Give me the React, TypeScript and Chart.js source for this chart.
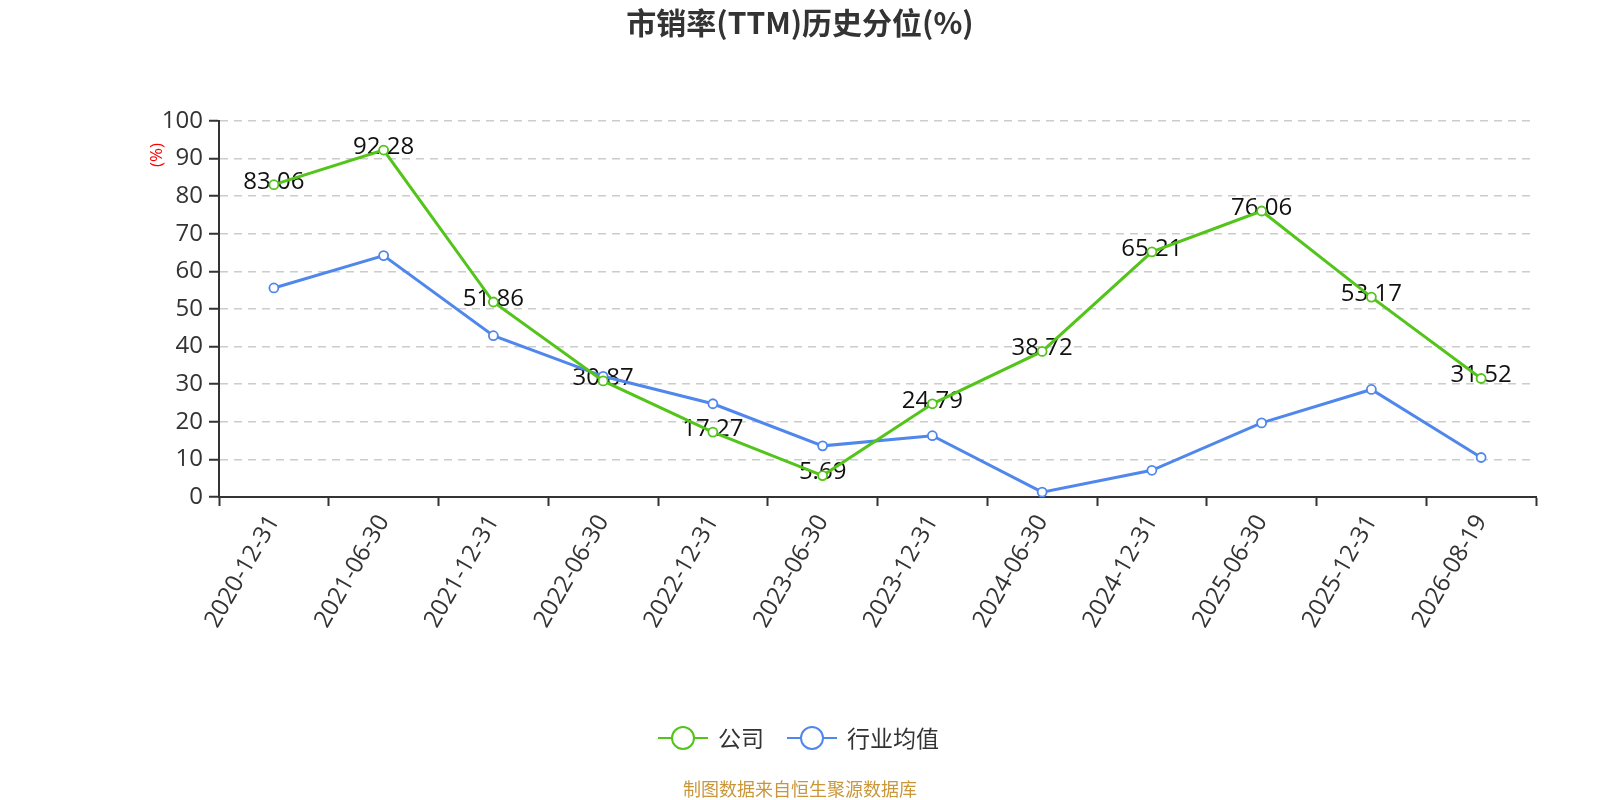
import React, { useEffect, useRef } from "react";
import { Chart, registerables } from "chart.js";

Chart.register(...registerables);

const categories = [
  "2020-12-31", "2021-06-30", "2021-12-31", "2022-06-30", "2022-12-31", "2023-06-30",
  "2023-12-31", "2024-06-30", "2024-12-31", "2025-06-30", "2025-12-31", "2026-08-19",
];
const companyValues = [83.06, 92.28, 51.86, 30.87, 17.27, 5.69, 24.79, 38.72, 65.21, 76.06, 53.17, 31.52];
const industryValues = [55.6, 64.2, 42.9, 32.1, 24.8, 13.6, 16.3, 1.3, 7.1, 19.7, 28.6, 10.5];
const seriesNames = ["公司", "行业均值"];
const yMin = 0;
const yMax = 100;
const yStep = 10;
const TITLE = "市销率(TTM)历史分位(%)";
const Y_UNIT = "(%)";
const FOOTER = "制图数据来自恒生聚源数据库";

const GREEN = "#52c41a";
const BLUE = "#5087ec";
const NUM_FONT = "'Open Sans', 'Noto Sans CJK SC', sans-serif";
const CJK_FONT = "'Noto Sans CJK SC', 'Open Sans', sans-serif";

const decorPlugin = {
  id: "decor",
  beforeDatasetsDraw(chart: any) {
    const ctx = chart.ctx;
    const meta = chart.getDatasetMeta(0);
    ctx.save();
    ctx.font = `24px ${NUM_FONT}`;
    ctx.fillStyle = "#111";
    ctx.textAlign = "center";
    ctx.textBaseline = "middle";
    meta.data.forEach((pt: any, i: number) => {
      ctx.fillText(companyValues[i].toFixed(2), pt.x, pt.y - 3);
    });
    ctx.restore();
  },
  afterDraw(chart: any) {
    const ctx = chart.ctx;
    ctx.save();
    // title
    ctx.font = `bold 30px ${CJK_FONT}`;
    ctx.fillStyle = "#333";
    ctx.textAlign = "center";
    ctx.textBaseline = "middle";
    ctx.fillText(TITLE, 800, 23);
    // y unit
    ctx.save();
    ctx.translate(157, 155);
    ctx.rotate(-Math.PI / 2);
    ctx.font = `17px ${NUM_FONT}`;
    ctx.fillStyle = "#ff0000";
    ctx.fillText(Y_UNIT, 0, 0);
    ctx.restore();
    // legend
    const items = [
      { name: seriesNames[0], color: GREEN, x0: 658 },
      { name: seriesNames[1], color: BLUE, x0: 787 },
    ];
    const ly = 738;
    items.forEach((it) => {
      ctx.strokeStyle = it.color;
      ctx.lineWidth = 2;
      ctx.beginPath();
      ctx.moveTo(it.x0, ly);
      ctx.lineTo(it.x0 + 50, ly);
      ctx.stroke();
      ctx.beginPath();
      ctx.arc(it.x0 + 25, ly, 11, 0, Math.PI * 2);
      ctx.fillStyle = "#fff";
      ctx.fill();
      ctx.stroke();
      ctx.font = `23px ${CJK_FONT}`;
      ctx.fillStyle = "#333";
      ctx.textAlign = "left";
      ctx.textBaseline = "middle";
      ctx.fillText(it.name, it.x0 + 60, ly);
    });
    // footer
    ctx.font = `18px ${CJK_FONT}`;
    ctx.fillStyle = "#c9973a";
    ctx.textAlign = "center";
    ctx.textBaseline = "middle";
    ctx.fillText(FOOTER, 800, 789);
    ctx.restore();
  },
};

export default function App() {
  const ref = useRef<HTMLCanvasElement | null>(null);
  useEffect(() => {
    if (!ref.current) return;
    const chart = new Chart(ref.current, {
      type: "line",
      data: {
        labels: categories,
        datasets: [
          {
            label: seriesNames[0],
            data: companyValues,
            borderColor: GREEN,
            backgroundColor: "#fff",
            borderWidth: 3,
            pointRadius: 4.5,
            pointBorderWidth: 1.8,
            pointBackgroundColor: "#fff",
            pointBorderColor: GREEN,
            tension: 0,
            clip: false as any,
          },
          {
            label: seriesNames[1],
            data: industryValues,
            borderColor: BLUE,
            backgroundColor: "#fff",
            borderWidth: 3,
            pointRadius: 4.5,
            pointBorderWidth: 1.8,
            pointBackgroundColor: "#fff",
            pointBorderColor: BLUE,
            tension: 0,
            clip: false as any,
          },
        ],
      },
      options: {
        responsive: false,
        animation: false,
        devicePixelRatio: 1,
        layout: { padding: { top: 121, right: 64, bottom: 123, left: 0 } },
        plugins: {
          legend: { display: false },
          title: { display: false },
          tooltip: { enabled: false },
        },
        scales: {
          x: {
            type: "category",
            offset: true,
            grid: {
              display: true,
              offset: true,
              drawOnChartArea: false,
              drawTicks: true,
              tickLength: 9,
              tickColor: "#333",
              tickWidth: 2,
            },
            border: { display: true, color: "#333", width: 2 },
            ticks: {
              autoSkip: false,
              minRotation: 60,
              maxRotation: 60,
              padding: 4,
              color: "#333",
              font: { size: 24, family: NUM_FONT },
            },
            afterFit(scale: any) {
              scale.height = 180;
            },
          },
          y: {
            min: yMin,
            max: yMax,
            grid: {
              color: "#cccccc",
              lineWidth: 1.5,
              drawTicks: true,
              tickLength: 10,
              tickColor: "#333",
              tickWidth: 2,
              tickBorderDash: [],
            },
            border: { display: true, color: "#333", width: 2, dash: [8, 6] },
            ticks: {
              stepSize: yStep,
              padding: 6,
              color: "#333",
              font: { size: 24, family: NUM_FONT },
            },
            afterFit(scale: any) {
              scale.width = 219;
            },
          },
        },
      },
      plugins: [decorPlugin],
    } as any);
    return () => chart.destroy();
  }, []);
  return (
    <div style={{ position: "fixed", left: 0, top: 0, width: 1600, height: 800, background: "#fff" }}>
      <canvas ref={ref} width={1600} height={800} style={{ width: 1600, height: 800, display: "block" }} />
    </div>
  );
}
